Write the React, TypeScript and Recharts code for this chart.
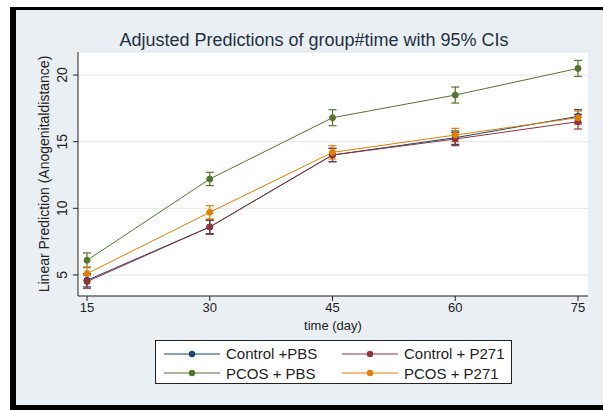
import React from "react";
import { LineChart, Line, XAxis, YAxis, CartesianGrid, ErrorBar } from "recharts";

const days = [15, 30, 45, 60, 75];
const controlPbs = [4.6, 8.6, 14.0, 15.3, 16.9];
const controlP271 = [4.5, 8.6, 14.0, 15.2, 16.5];
const pcosPbs = [6.1, 12.2, 16.8, 18.5, 20.5];
const pcosP271 = [5.1, 9.7, 14.2, 15.5, 16.8];
const controlPbsCi = [0.5, 0.5, 0.5, 0.5, 0.5];
const controlP271Ci = [0.5, 0.55, 0.5, 0.5, 0.55];
const pcosPbsCi = [0.55, 0.5, 0.6, 0.6, 0.6];
const pcosP271Ci = [0.5, 0.5, 0.5, 0.5, 0.5];
const yTicks = [5, 10, 15, 20];

const series = [
  { key: "cPbs", name: "Control +PBS", color: "#1a476f" },
  { key: "cP271", name: "Control + P271", color: "#90353b" },
  { key: "pPbs", name: "PCOS + PBS", color: "#55752f" },
  { key: "pP271", name: "PCOS + P271", color: "#e37e00" },
];

const data = days.map((d, i) => ({
  day: d,
  cPbs: controlPbs[i], cPbsErr: controlPbsCi[i],
  cP271: controlP271[i], cP271Err: controlP271Ci[i],
  pPbs: pcosPbs[i], pPbsErr: pcosPbsCi[i],
  pP271: pcosP271[i], pP271Err: pcosP271Ci[i],
}));

const FONT = "'Liberation Sans', Arial, sans-serif";

function YTick({ x, y, payload }: any) {
  return (
    <text x={x - 4} y={y} transform={`rotate(-90 ${x - 4} ${y})`} textAnchor="middle" fontSize={14} fill="#222" fontFamily={FONT}>
      {payload.value}
    </text>
  );
}

function LegendBox() {
  return (
    <div style={{ position: "absolute", left: 155, top: 340, border: "1px solid #222", background: "#fff", width: 357, height: 44, boxSizing: "border-box", display: "grid", gridTemplateColumns: "178px 176px", padding: "3px 0 0 8px", fontFamily: FONT, fontSize: 15, color: "#222", lineHeight: "19px" }}>
      {series.map((s) => (
        <div key={s.key} style={{ display: "flex", alignItems: "center" }}>
          <svg width={56} height={10} style={{ marginRight: 6 }}>
            <line x1={0} y1={5} x2={56} y2={5} stroke={s.color} strokeWidth={1.2} />
            <circle cx={28} cy={5} r={3.2} fill={s.color} />
          </svg>
          <span>{s.name}</span>
        </div>
      ))}
    </div>
  );
}

export default function App() {
  return (
    <div style={{ position: "fixed", left: 0, top: 0, width: 603, height: 410, background: "#fff" }}>
      <div style={{ position: "absolute", left: 10, top: 7, width: 593, height: 403, boxSizing: "border-box", borderLeft: "6px solid #000", borderTop: "3px solid #000", borderBottom: "5px solid #000", background: "#e9eff3" }} />
      <div style={{ position: "absolute", left: 0, top: 30, width: 628, textAlign: "center", fontFamily: FONT, fontSize: 18, color: "#1f2f44" }}>
        Adjusted Predictions of group#time with 95% CIs
      </div>
      <div style={{ position: "absolute", left: 0, top: 0 }}>
        <LineChart width={603} height={410} data={data} margin={{ top: 52, right: 15, left: 48, bottom: 82 }}>
          <CartesianGrid vertical={false} stroke="#e6e6e6" strokeWidth={1} fill="#fff" fillOpacity={1} />
          <XAxis
            dataKey="day" type="number" domain={[15, 75]} ticks={days} padding={{ left: 9, right: 10 }}
            tick={{ fontSize: 13, fill: "#222", fontFamily: FONT }} tickSize={5} stroke="#222" height={32}
            label={{ value: "time (day)", position: "insideBottom", offset: -2, fontSize: 13, fill: "#222", fontFamily: FONT }}
          />
          <YAxis
            domain={[3.42, 21.73]} ticks={yTicks} width={30} tick={<YTick />} tickSize={5} stroke="#222"
            label={{ value: "Linear Prediction (Anogenitaldistance)", angle: -90, position: "insideLeft", offset: -4, fontSize: 14, fill: "#222", fontFamily: FONT, style: { textAnchor: "middle" } }}
          />
          {series.map((s) => (
            <Line key={s.key} dataKey={s.key} name={s.name} stroke={s.color} strokeWidth={1} isAnimationActive={false}
              dot={{ r: 3, fill: s.color, stroke: s.color, strokeWidth: 1 }}>
              <ErrorBar dataKey={`${s.key}Err`} width={4} stroke={s.color} strokeWidth={1.2} direction="y" />
            </Line>
          ))}
        </LineChart>
      </div>
      <LegendBox />
    </div>
  );
}
